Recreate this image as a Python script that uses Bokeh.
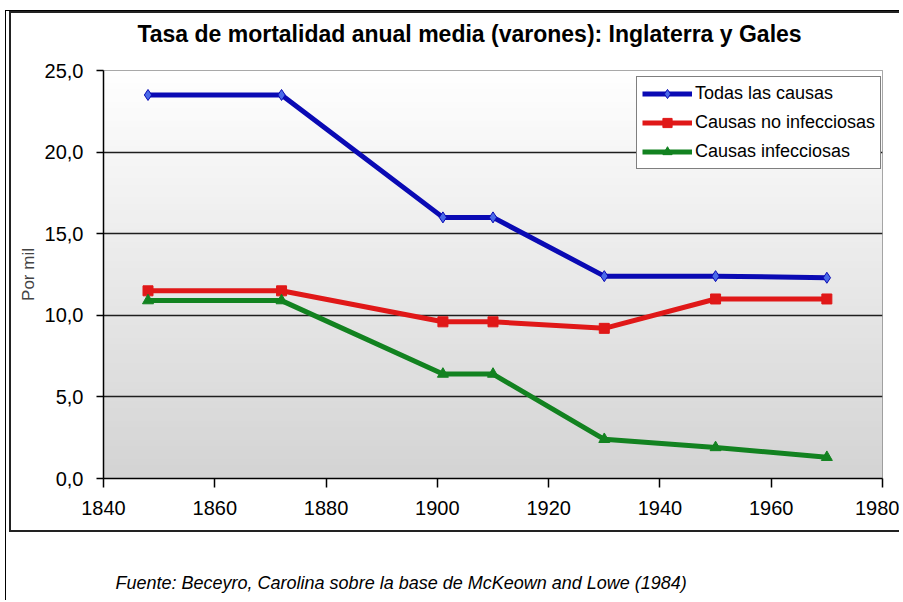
import numpy as np
from bokeh.plotting import figure
from bokeh.layouts import column
from bokeh.models import (Label, FixedTicker, Legend, LegendItem,
                          LinearColorMapper, Range1d)
from bokeh.embed import file_html
from bokeh.resources import INLINE

# ---- data ----
years = [1848, 1872, 1901, 1910, 1930, 1950, 1970]
todas = [23.5, 23.5, 16.0, 16.0, 12.4, 12.4, 12.3]
no_infecciosas = [11.5, 11.5, 9.6, 9.6, 9.2, 11.0, 11.0]
infecciosas = [10.9, 10.9, 6.4, 6.4, 2.4, 1.9, 1.3]

x_ticks = [1840, 1860, 1880, 1900, 1920, 1940, 1960, 1980]
y_ticks = [0, 5, 10, 15, 20, 25]
y_tick_labels = ["0,0", "5,0", "10,0", "15,0", "20,0", "25,0"]

title_text = "Tasa de mortalidad anual media (varones): Inglaterra y Gales"
source_text = "Fuente: Beceyro, Carolina sobre la base de McKeown and Lowe (1984)"
y_label = "Por mil"
series_names = ["Todas las causas", "Causas no infecciosas", "Causas infecciosas"]

X0, X1 = 1840, 1980
Y0, Y1 = 0, 25

FONT = "Liberation Sans"
BOX_LINE = "2px solid #222222"


def text_strip(height, styles=None):
    f = figure(width=890, height=height, output_backend="svg", toolbar_location=None,
               x_range=Range1d(0, 1), y_range=Range1d(0, 1), min_border=0,
               styles=styles or {})
    f.axis.visible = False
    f.grid.visible = False
    f.outline_line_color = None
    return f


# ---- title strip ----
head = text_strip(42, {"border-left": BOX_LINE, "border-top": BOX_LINE, "margin-left": "3px"})
head.add_layout(Label(x=366, y=22, x_units="screen", y_units="screen", text=title_text,
                      text_font=FONT, text_font_size="23px", text_font_style="bold",
                      text_align="center", text_baseline="middle", text_color="black"))

# ---- chart ----
p = figure(width=890, height=479, output_backend="svg", toolbar_location=None,
           x_range=Range1d(X0, X1), y_range=Range1d(Y0, Y1),
           min_border_left=92, min_border_right=19, min_border_top=17,
           min_border_bottom=54,
           styles={"border-left": BOX_LINE, "border-bottom": BOX_LINE, "margin-left": "3px"})
p.title.text = ""
p.title.visible = False
p.background_fill_color = "white"
p.border_fill_color = "white"
p.outline_line_color = "#8c8c8c"
p.outline_line_width = 1

# gradient background of plot area
grad = np.linspace(0, 1, 128).reshape(128, 1)
pal = ["#%02x%02x%02x" % (v, v, v) for v in np.linspace(0xd4, 0xff, 64).astype(int)]
mapper = LinearColorMapper(palette=pal, low=0, high=1)
p.image(image=[grad], x=X0, y=Y0, dw=X1 - X0, dh=Y1 - Y0, color_mapper=mapper, level="image")

# grid
p.xgrid.visible = False
p.ygrid.ticker = FixedTicker(ticks=y_ticks)
p.ygrid.grid_line_color = "#1e1e1e"
p.ygrid.grid_line_width = 1.5
p.ygrid.level = "underlay"

# axes
p.xaxis.ticker = FixedTicker(ticks=x_ticks)
p.yaxis.ticker = FixedTicker(ticks=y_ticks)
p.yaxis.major_label_overrides = {t: l for t, l in zip(y_ticks, y_tick_labels)}
for ax in (p.xaxis[0], p.yaxis[0]):
    ax.axis_line_color = "black"
    ax.axis_line_width = 1.5
    ax.major_tick_line_color = "black"
    ax.major_tick_line_width = 1.5
    ax.minor_tick_line_color = None
    ax.major_tick_in = 0
    ax.major_label_text_font = FONT
    ax.major_label_text_font_size = "20px"
    ax.major_label_text_color = "black"
p.xaxis.major_tick_out = 9
p.xaxis.major_label_standoff = 13
p.yaxis.major_tick_out = 7
p.yaxis.major_label_standoff = 13
p.yaxis.axis_label = y_label
p.yaxis.axis_label_text_font = FONT
p.yaxis.axis_label_text_font_size = "17px"
p.yaxis.axis_label_text_font_style = "normal"
p.yaxis.axis_label_standoff = 4

colors = ["#0a0ab4", "#e01818", "#128220"]
marker_fill = ["#4a6ae8", "#e01818", "#128220"]
markers = ["diamond", "square", "triangle"]
sizes = [11, 10, 11]
data = [todas, no_infecciosas, infecciosas]

items = []
for name, vals, c, mf, mk, sz in zip(series_names, data, colors, marker_fill, markers, sizes):
    r1 = p.line(years, vals, line_color=c, line_width=5)
    r2 = p.scatter(years, vals, marker=mk, size=sz, fill_color=mf, line_color=c, line_width=1)
    items.append(LegendItem(label=name, renderers=[r1, r2]))

legend = Legend(items=items, location=(533, 309))
legend.label_text_font = FONT
legend.label_text_font_size = "18px"
legend.label_text_color = "black"
legend.border_line_color = "black"
legend.border_line_width = 1.5
legend.background_fill_color = "white"
legend.background_fill_alpha = 1
legend.glyph_width = 50
legend.glyph_height = 23
legend.label_height = 23
legend.label_standoff = 3
legend.spacing = 6
legend.padding = 5
legend.margin = 0
p.add_layout(legend, "center")

# ---- source note ----
src = text_strip(68)
src.add_layout(Label(x=17, y=18, x_units="screen", y_units="screen", text=source_text,
                     text_font=FONT, text_font_size="18px", text_font_style="italic",
                     text_align="left", text_baseline="middle", text_color="black"))

root = column(head, p, src, spacing=0,
              styles={"border-left": "1px solid black", "border-top": "1px solid black",
                      "margin-left": "5px", "margin-top": "10px"})

open("out.html", "w").write(file_html(root, INLINE))
